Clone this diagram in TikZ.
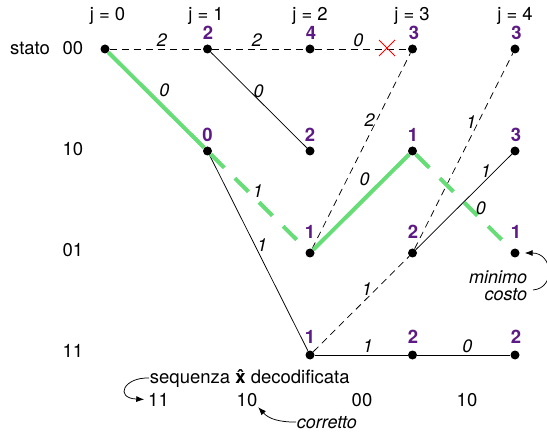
\documentclass[tikz,border=0pt]{standalone}
\usepackage{fontspec}
\setmainfont{TeX Gyre Heros}
\usetikzlibrary{arrows.meta}

\definecolor{pathgreen}{RGB}{102,221,119}
\definecolor{costpurple}{RGB}{92,26,132}

\tikzset{
  dot/.style={circle,fill=black,inner sep=0pt,minimum size=9pt},
  cost/.style={font=\fontsize{18.5}{18.5}\selectfont\bfseries,text=costpurple,inner sep=0.75pt},
  lbl/.style={font=\fontsize{18}{18}\selectfont\itshape,inner sep=2pt},
  txt/.style={font=\fontsize{18.5}{18.5}\selectfont,inner sep=0.75pt},
  branch/.style={line width=0.75},
  dbranch/.style={line width=0.75,dash pattern=on 7pt off 5pt},
  best/.style={line width=4,color=pathgreen},
  dbest/.style={line width=4,color=pathgreen,dash pattern=on 19pt off 15pt},
  tip/.style={-{Latex[length=8pt,width=6pt]},line width=0.75}
}

\begin{document}
\begin{tikzpicture}[x=1pt,y=1pt,yscale=-1,xscale=1]
	\useasboundingbox (0,0) rectangle (547,433);

	%Shape: Circle (stato 00)
	\node[dot] (n00j0) at (105,49) {};
	\node[dot] (n00j1) at (207.5,49) {};
	\node[dot] (n00j2) at (310,49) {};
	\node[dot] (n00j3) at (412.5,49) {};
	\node[dot] (n00j4) at (515,49) {};
	%Shape: Circle (stato 10)
	\node[dot] (n10j1) at (207.5,151) {};
	\node[dot] (n10j2) at (310,151) {};
	\node[dot] (n10j3) at (412.5,151) {};
	\node[dot] (n10j4) at (515,151) {};
	%Shape: Circle (stato 01)
	\node[dot] (n01j2) at (310,253) {};
	\node[dot] (n01j3) at (412.5,253) {};
	\node[dot] (n01j4) at (515,253) {};
	%Shape: Circle (stato 11)
	\node[dot] (n11j2) at (310,355) {};
	\node[dot] (n11j3) at (412.5,355) {};
	\node[dot] (n11j4) at (515,355) {};

	%Straight Lines (rami scartati)
	\draw[dbranch] (n00j0) -- (n00j1) node[lbl,pos=0.56,anchor=south] {2};
	\draw[dbranch] (n00j1) -- (n00j2) node[lbl,pos=0.48,anchor=south] {2};
	\draw[dbranch] (n00j2) -- (n00j3) node[lbl,pos=0.47,anchor=south] {0};
	\draw[branch] (n00j1) -- (n10j2) node[lbl,pos=0.5,anchor=south] {0};
	\draw[branch] (n10j1) -- (n11j2) node[lbl,pos=0.46,anchor=west] {1};
	\draw[dbranch] (n01j2) -- (n00j3) node[lbl,pos=0.66,anchor=east] {2};
	\draw[dbranch] (n01j3) -- (n00j4) node[lbl,pos=0.65,anchor=east] {1};
	\draw[branch] (n01j3) -- (n10j4) node[lbl,pos=0.73,anchor=south] {1};
	\draw[dbranch] (n11j2) -- (n01j3) node[lbl,pos=0.56,anchor=south] {1};
	\draw[branch] (n11j2) -- (n11j3) node[lbl,pos=0.57,anchor=south] {1};
	\draw[branch] (n11j3) -- (n11j4) node[lbl,pos=0.54,anchor=south] {0};

	%Straight Lines (percorso di minimo costo)
	\draw[best] (n00j0) -- (n10j1) node[lbl,pos=0.5,anchor=south west,inner sep=1pt,text=black] {0};
	\draw[dbest] (n10j1) -- (n01j2) node[lbl,pos=0.49,anchor=south,text=black] {1};
	\draw[best] (n01j2) -- (n10j3) node[lbl,pos=0.63,anchor=south east,text=black] {0};
	\draw[dbest] (n10j3) -- (n01j4) node[lbl,pos=0.68,anchor=south,text=black] {0};

	%Shape: Cross
	\coordinate (cut) at (387,48);
	\draw[red,line width=0.9] ([shift={(-8,-8)}]cut) -- ([shift={(8,8)}]cut);
	\draw[red,line width=0.9] ([shift={(-8,8)}]cut) -- ([shift={(8,-8)}]cut);

	% Text Node (costi)
	\node[cost] (k00j1) at (208,32.5) {2};
	\node[cost] (k00j2) at (311,32.5) {4};
	\node[cost] (k00j3) at (414,32.5) {3};
	\node[cost] (k00j4) at (516.5,32.5) {3};
	\node[cost] (k10j1) at (207.5,135) {0};
	\node[cost] (k10j2) at (310,135) {2};
	\node[cost] (k10j3) at (413,135) {1};
	\node[cost] (k10j4) at (516,135) {3};
	\node[cost] (k01j2) at (310,232) {1};
	\node[cost] (k01j3) at (413,232) {2};
	\node[cost] (k01j4) at (516,232) {1};
	\node[cost] (k11j2) at (310,337) {1};
	\node[cost] (k11j3) at (413,337) {2};
	\node[cost] (k11j4) at (516,337) {2};

	% Text Node (intestazioni)
	\node[txt] (hj0) at (107.5,16) {j = 0};
	\node[txt] (hj1) at (206,16) {j = 1};
	\node[txt] (hj2) at (310,16) {j = 2};
	\node[txt] (hj3) at (412,16) {j = 3};
	\node[txt] (hj4) at (515,16) {j = 4};
	% Text Node (stati)
	\node[txt,anchor=base] (stato) at (30,54.5) {stato};
	\node[txt,anchor=base] (r00) at (73,54.5) {00};
	\node[txt,anchor=base] (r10) at (73,155.5) {10};
	\node[txt,anchor=base] (r01) at (73,256.5) {01};
	\node[txt,anchor=base] (r11) at (73,357.5) {11};

	% Text Node (sequenza)
	\node[txt,anchor=base west] (seq) at (149,383) {sequenza {\bfseries\^{x}} decodificata};
	\node[txt,anchor=base] (seqa) at (158.5,406) {11};
	\node[txt,anchor=base] (seqb) at (247,406) {10};
	\node[txt,anchor=base] (seqc) at (362,406) {00};
	\node[txt,anchor=base] (seqd) at (467,406) {10};
	\node[lbl,inner sep=0.75pt,anchor=base west] (corretto) at (296,428) {corretto};
	\node[lbl,inner sep=0.75pt,align=right,anchor=east,font=\fontsize{18}{16.5}\selectfont\itshape] (mincost) at (528,286) {minimo\\costo};

	%Curve Lines (frecce)
	\draw[tip] (seq.west) .. controls (124,377) and (114,398) .. ([xshift=-3pt]seqa.west);
	\draw[tip] (corretto.west) .. controls (279,422) and (269,419) .. (seqb.south east);
	\coordinate (mcstart) at (533,290);
	\draw[tip,shorten >=5pt] (mcstart) .. controls (556,288) and (553,253) .. (n01j4);
\end{tikzpicture}
\end{document}
